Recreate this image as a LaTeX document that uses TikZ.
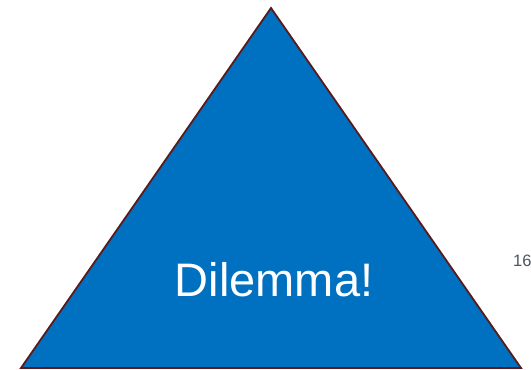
\documentclass[tikz,border=0pt]{standalone}
\usepackage{fontspec}
\setmainfont{Liberation Sans}
\definecolor{fillblue}{HTML}{0070C0}
\definecolor{edgered}{HTML}{5A1A1A}
\definecolor{numgray}{HTML}{4A5560}
\begin{document}
\begin{tikzpicture}[x=1pt,y=1pt,
  tri/.style={fill=fillblue,draw=edgered,line width=1.8pt,line join=miter},
  label/.style={text=white,font=\fontsize{47}{52}\selectfont,inner sep=0pt,anchor=base},
  pagenum/.style={text=numgray,font=\fontsize{16.5}{19}\selectfont,inner sep=0pt,anchor=base west}]
\useasboundingbox (0,0) rectangle (531,370);
\coordinate (apex) at (271,362);
\coordinate (bl) at (21,2);
\coordinate (br) at (521,2);
\draw[tri] (apex) -- (br) -- (bl) -- cycle;
\node[label] (dil) at (274,73) {Dilemma!};
\node[pagenum] (num) at (513,103) {16};
\end{tikzpicture}
\end{document}
